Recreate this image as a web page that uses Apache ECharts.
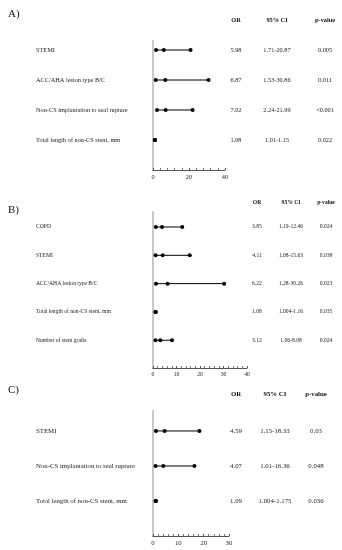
<!DOCTYPE html>
<html><head><meta charset="utf-8">
<script src="https://cdn.jsdelivr.net/npm/echarts@6/dist/echarts.min.js"></script>
<style>html,body{margin:0;padding:0;background:#fff}#c{width:342px;height:550px}</style>
</head><body><div id="c"></div>
<script>
// ---------- data ----------
const panelTitles = ['A)', 'B)', 'C)'];
const headers = ['OR', '95% CI', 'p-value'];

const aLabels = ['STEMI', 'ACC/AHA lesion type B/C', 'Non-CS implantation to seal rupture', 'Total length of non-CS stent, mm'];
const aOR = [5.98, 6.87, 7.02, 1.08];
const aLo = [1.71, 1.53, 2.24, 1.01];
const aHi = [20.87, 30.86, 21.99, 1.15];
const aOrText = ['5.98', '6.87', '7.02', '1.08'];
const aCiText = ['1.71-20.87', '1.53-30.86', '2.24-21.99', '1.01-1.15'];
const aP = ['0.005', '0.011', '<0.001', '0.022'];
const aTicks = [0, 20, 40];

const bLabels = ['COPD', 'STEMI', 'ACC/AHA lesion type B/C', 'Total length of non-CS stent, mm', 'Number of stent grafts'];
const bOR = [3.85, 4.11, 6.22, 1.08, 3.12];
const bLo = [1.19, 1.08, 1.28, 1.004, 1.06];
const bHi = [12.46, 15.63, 30.26, 1.16, 8.08];
const bOrText = ['3.85', '4.11', '6.22', '1.08', '3.12'];
const bCiText = ['1.19-12.46', '1.08-15.63', '1.28-30.26', '1.004-1.16', '1.06-8.08'];
const bP = ['0.024', '0.038', '0.023', '0.035', '0.024'];
const bTicks = [0, 10, 20, 30, 40];

const cLabels = ['STEMI', 'Non-CS implantation to seal rupture', 'Total length of non-CS stent, mm'];
const cOR = [4.59, 4.07, 1.09];
const cLo = [1.15, 1.01, 1.004];
const cHi = [18.33, 16.36, 1.175];
const cOrText = ['4.59', '4.07', '1.09'];
const cCiText = ['1.15-18.33', '1.01-16.36', '1.004-1.175'];
const cP = ['0.03', '0.048', '0.036'];
const cTicks = [0, 10, 20, 30];

// ---------- layout (styles only) ----------
const FONT = '"Liberation Serif", "Times New Roman", serif';
const panels = [
  {labels: aLabels, or: aOR, lo: aLo, hi: aHi, cols: [aOrText, aCiText, aP], ticks: aTicks,
   left: 153, top: 41, width: 72, height: 129, ymin: -0.3, ymax: 4.0, fs: 6.3,
   colX: [236, 277, 325], headGap: 18, titleTop: 4},
  {labels: bLabels, or: bOR, lo: bLo, hi: bHi, cols: [bOrText, bCiText, bP], ticks: bTicks,
   left: 153, top: 212, width: 94, height: 156, ymin: -0.53, ymax: 4.98, fs: 5.6,
   colX: [257, 291, 326], headGap: 6, titleTop: 200},
  {labels: cLabels, or: cOR, lo: cLo, hi: cHi, cols: [cOrText, cCiText, cP], ticks: cTicks,
   left: 153, top: 411, width: 76, height: 125, ymin: -0.57, ymax: 3.0, fs: 6.8,
   colX: [236, 275, 316], headGap: 13, titleTop: 380}
];

const grid = [], xAxis = [], yAxis = [], series = [], title = [];
panels.forEach((p, g) => {
  grid.push({left: p.left, top: p.top, width: p.width, height: p.height});
  const tmin = p.ticks[0], tmax = p.ticks[p.ticks.length - 1];
  const interval = p.ticks[1] - p.ticks[0];
  xAxis.push({
    gridIndex: g, type: 'value', min: tmin, max: tmax, interval: interval,
    axisLine: {show: true, onZero: false, lineStyle: {color: '#555', width: 1}},
    axisTick: {show: true, inside: true, length: 2, lineStyle: {color: '#555'}},
    minorTick: {show: true, splitNumber: 5, length: 2, lineStyle: {color: '#777'}},
    splitLine: {show: false}, minorSplitLine: {show: false},
    axisLabel: {fontFamily: FONT, fontSize: p.fs, color: '#222', margin: 4}
  });
  title.push({text: panelTitles[g], left: 3, top: p.titleTop,
    textStyle: {fontFamily: FONT, fontSize: 11, fontWeight: 'normal', color: '#111'}});
  const rows = p.labels.map((_, i) => i);
  const labelAxisIdx = yAxis.length;
  yAxis.push({
    gridIndex: g, type: 'value', inverse: true, min: p.ymin, max: p.ymax,
    axisLine: {show: true, lineStyle: {color: '#c8c8c8', width: 2}},
    axisTick: {show: false}, splitLine: {show: false},
    axisLabel: {customValues: rows, formatter: v => p.labels[v] || '',
      align: 'left', margin: p.left - 36, fontFamily: FONT, fontSize: p.fs, color: '#222'}
  });
  p.cols.forEach((col, c) => {
    yAxis.push({
      gridIndex: g, type: 'value', inverse: true, min: p.ymin, max: p.ymax,
      position: 'right', offset: p.colX[c] - (p.left + p.width),
      name: headers[c], nameLocation: 'start', nameGap: p.headGap,
      nameTextStyle: {fontFamily: FONT, fontSize: p.fs, fontWeight: 'bold', color: '#111', align: 'center'},
      axisLine: {show: false}, axisTick: {show: false}, splitLine: {show: false},
      axisLabel: {customValues: rows, formatter: v => col[v] || '', align: 'center', margin: 0,
        fontFamily: FONT, fontSize: p.fs, color: '#222'}
    });
  });
  rows.forEach(i => {
    series.push({
      type: 'line', xAxisIndex: g, yAxisIndex: labelAxisIdx,
      data: [[p.lo[i], i], [p.or[i], i], [p.hi[i], i]],
      symbol: 'circle', symbolSize: 4, showSymbol: true,
      itemStyle: {color: '#000'}, lineStyle: {color: '#000', width: 1},
      silent: true, animation: false
    });
  });
});

const chart = echarts.init(document.getElementById('c'), null, {renderer: 'canvas'});
chart.setOption({backgroundColor: '#fff', animation: false, title, grid, xAxis, yAxis, series});
</script>
</body></html>
